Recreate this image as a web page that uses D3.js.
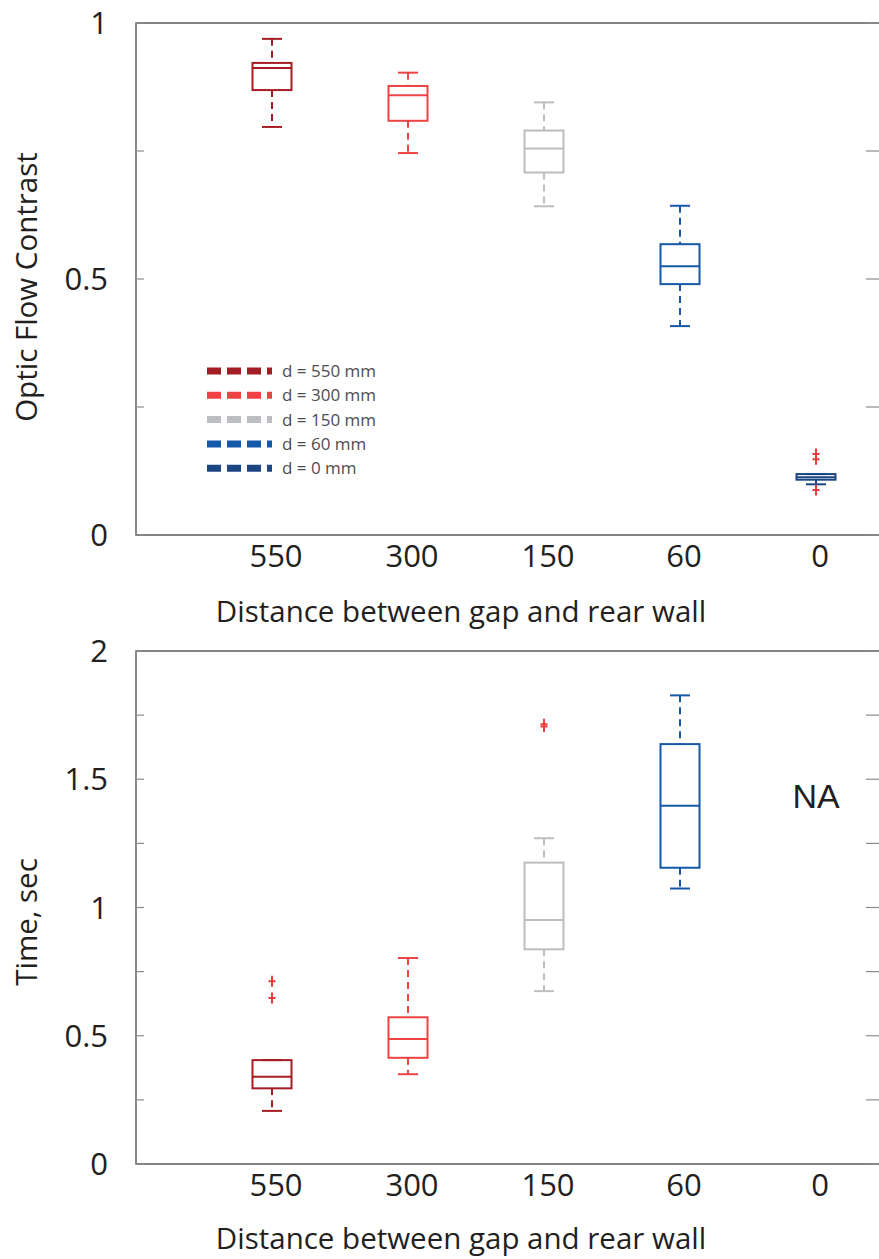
<!DOCTYPE html>
<html>
<head>
<meta charset="utf-8">
<script src="https://cdn.jsdelivr.net/npm/d3@7"></script>
<style>
    html, body { margin: 0; padding: 0; background: #fff; }
    svg { display: block; }
    text { font-family: "Open Sans", "Noto Sans", sans-serif; fill: #231f20; }
</style>
</head>
<body>
<div id="chart"></div>
<script>
// groups: distance between gap and rear wall (mm)
const groups = ['550', '300', '150', '60', '0'];
const groupColors = ['#a51d24', '#ef4343', '#bcbdc0', '#1559a8', '#1c4583'];
const legendLabels = ['d = 550 mm', 'd = 300 mm', 'd = 150 mm', 'd = 60 mm', 'd = 0 mm'];

// panel 1: optic flow contrast
const flowLow = [0.797, 0.746, 0.642, 0.408, 0.099];
const flowQ1 = [0.869, 0.809, 0.708, 0.490, 0.108];
const flowMedian = [0.912, 0.859, 0.755, 0.525, 0.113];
const flowQ3 = [0.922, 0.877, 0.790, 0.568, 0.119];
const flowHigh = [0.969, 0.903, 0.845, 0.643, 0.119];
const flowOutliers = [[], [], [], [], [0.158, 0.148, 0.088]];
const flowTicks = [0, 0.25, 0.5, 0.75, 1];
const flowTickLabels = ['0', '', '0.5', '', '1'];

// panel 2: time (sec); d = 0 has no data
const timeLow = [0.207, 0.350, 0.674, 1.074, null];
const timeQ1 = [0.295, 0.414, 0.837, 1.155, null];
const timeMedian = [0.340, 0.487, 0.951, 1.397, null];
const timeQ3 = [0.405, 0.572, 1.175, 1.637, null];
const timeHigh = [0.405, 0.803, 1.270, 1.827, null];
const timeOutliers = [[0.712, 0.647], [], [1.714, 1.706], [], []];
const timeTicks = [0, 0.25, 0.5, 0.75, 1, 1.25, 1.5, 1.75, 2];
const timeTickLabels = ['0', '', '0.5', '', '1', '', '1.5', '', '2'];

const W = 879, H = 1259;
const outlierColor = '#ee3b3b';

const svg = d3.select('#chart').append('svg')
    .attr('width', W)
    .attr('height', H);

const x = d3.scaleLinear().domain([0, 5.5]).range([136, 884]);

function drawPanel(cfg) {
    const y = d3.scaleLinear().domain(cfg.domain).range([cfg.bottom, cfg.top]);
    const g = svg.append('g');
    const left = x.range()[0], right = x.range()[1];

    // frame: left, top, bottom
    g.append('path')
        .attr('d', `M${right},${cfg.top}H${left}V${cfg.bottom}H${right}`)
        .attr('fill', 'none')
        .attr('stroke', '#58595b')
        .attr('stroke-width', 1.4);

    cfg.ticks.forEach((t, i) => {
        const ty = y(t);
        g.append('line')
            .attr('x1', left).attr('x2', left + 8)
            .attr('y1', ty).attr('y2', ty)
            .attr('stroke', '#8a8c8e').attr('stroke-width', 1.2);
        g.append('line')
            .attr('x1', right - 18).attr('x2', right)
            .attr('y1', ty).attr('y2', ty)
            .attr('stroke', '#8a8c8e').attr('stroke-width', 1.2);
        if (cfg.tickLabels[i]) {
            g.append('text')
                .attr('x', 108)
                .attr('y', ty)
                .attr('dy', '0.36em')
                .attr('text-anchor', 'end')
                .style('font-size', '31px')
                .text(cfg.tickLabels[i]);
        }
    });

    groups.forEach((name, i) => {
        g.append('text')
            .attr('x', x(i + 1) + 4)
            .attr('y', cfg.bottom + 32)
            .attr('text-anchor', 'middle')
            .style('font-size', '31px')
            .text(name);
    });

    g.append('text')
        .attr('x', 461)
        .attr('y', cfg.bottom + cfg.titleGap)
        .attr('text-anchor', 'middle')
        .style('font-size', '29.5px')
        .text('Distance between gap and rear wall');

    g.append('text')
        .attr('transform', `translate(37,${cfg.labelY}) rotate(-90)`)
        .attr('text-anchor', 'middle')
        .style('font-size', '29.5px')
        .text(cfg.yLabel);

    const halfBox = 19.5, halfCap = 10;
    groups.forEach((name, i) => {
        if (cfg.q1[i] == null) return;
        const cx = x(i + 1);
        const color = groupColors[i];
        const bg = g.append('g');

        // whiskers, dashed, drawn top to bottom
        if (cfg.high[i] > cfg.q3[i]) {
            bg.append('line')
                .attr('x1', cx).attr('x2', cx)
                .attr('y1', y(cfg.high[i])).attr('y2', y(cfg.q3[i]))
                .attr('stroke', color).attr('stroke-width', 2)
                .attr('stroke-dasharray', '7,5');
        }
        if (cfg.low[i] < cfg.q1[i]) {
            bg.append('line')
                .attr('x1', cx).attr('x2', cx)
                .attr('y1', y(cfg.q1[i])).attr('y2', y(cfg.low[i]))
                .attr('stroke', color).attr('stroke-width', 2)
                .attr('stroke-dasharray', '7,5');
        }
        [cfg.high[i], cfg.low[i]].forEach(v => {
            bg.append('line')
                .attr('x1', cx - halfCap).attr('x2', cx + halfCap)
                .attr('y1', y(v)).attr('y2', y(v))
                .attr('stroke', color).attr('stroke-width', 2);
        });

        bg.append('rect')
            .attr('x', cx - halfBox)
            .attr('y', y(cfg.q3[i]))
            .attr('width', halfBox * 2)
            .attr('height', y(cfg.q1[i]) - y(cfg.q3[i]))
            .attr('fill', 'none')
            .attr('stroke', color).attr('stroke-width', 2);

        bg.append('line')
            .attr('x1', cx - halfBox).attr('x2', cx + halfBox)
            .attr('y1', y(cfg.median[i])).attr('y2', y(cfg.median[i]))
            .attr('stroke', color).attr('stroke-width', 2);
    });

    // outliers as red plus signs
    groups.forEach((name, i) => {
        const cx = x(i + 1);
        cfg.outliers[i].forEach(v => {
            const oy = y(v);
            g.append('path')
                .attr('d', `M${cx - 3.5},${oy}H${cx + 3.5}M${cx},${oy - 5.5}V${oy + 5.5}`)
                .attr('stroke', outlierColor)
                .attr('stroke-width', 2)
                .attr('fill', 'none');
        });
    });

    return { g, y };
}

const flowPanel = drawPanel({
    top: 23, bottom: 535, domain: [0, 1],
    ticks: flowTicks, tickLabels: flowTickLabels,
    yLabel: 'Optic Flow Contrast', labelY: 287, titleGap: 87,
    low: flowLow, q1: flowQ1, median: flowMedian, q3: flowQ3, high: flowHigh,
    outliers: flowOutliers
});

const timePanel = drawPanel({
    top: 651, bottom: 1164, domain: [0, 2],
    ticks: timeTicks, tickLabels: timeTickLabels,
    yLabel: 'Time, sec', labelY: 922, titleGap: 85,
    low: timeLow, q1: timeQ1, median: timeMedian, q3: timeQ3, high: timeHigh,
    outliers: timeOutliers
});

// legend inside the top panel
const legend = flowPanel.g.append('g');
legendLabels.forEach((label, i) => {
    const ly = 371 + i * 24.3;
    legend.append('line')
        .attr('x1', 207).attr('x2', 272)
        .attr('y1', ly).attr('y2', ly)
        .attr('stroke', groupColors[i])
        .attr('stroke-width', 7)
        .attr('stroke-dasharray', '14,6');
    legend.append('text')
        .attr('x', 282)
        .attr('y', ly)
        .attr('dy', '0.36em')
        .style('font-size', '17px')
        .style('fill', '#4d4d4f')
        .text(label);
});

// no data for d = 0 in the time panel
timePanel.g.append('text')
    .attr('x', 816)
    .attr('y', timePanel.y(1.5) + 29)
    .attr('text-anchor', 'middle')
    .style('font-family', '"Liberation Sans", Arial, sans-serif')
    .style('font-size', '34px')
    .text('NA');
</script>
</body>
</html>
